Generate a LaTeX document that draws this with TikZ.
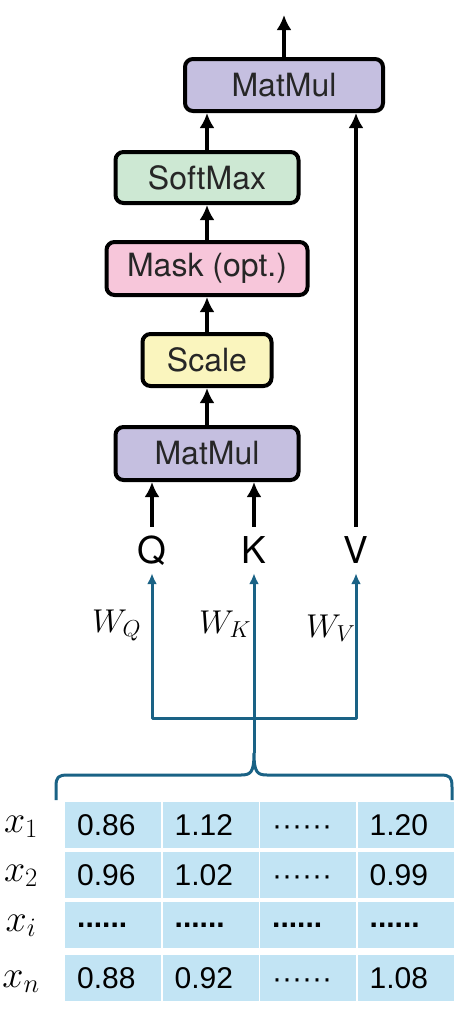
\RequirePackage{fix-cm}
\documentclass[tikz,border=0pt]{standalone}
\usepackage[no-math]{fontspec}
\setmainfont{TeX Gyre Heros}
\newfontfamily\arialf{Liberation Sans}
\usetikzlibrary{arrows.meta}
\definecolor{cpurple}{HTML}{C5BFE0}
\definecolor{cgreen}{HTML}{CDE8D3}
\definecolor{cpink}{HTML}{F7C6DA}
\definecolor{cyellow}{HTML}{FAF5BE}
\definecolor{ccell}{HTML}{C2E4F4}
\definecolor{cblue}{HTML}{1A6285}
\begin{document}
\begin{tikzpicture}[x=1pt,y=1pt,
  box/.style={draw=black, line width=4pt, rounded corners=8pt, inner sep=0pt,
    text=black!85, font=\fontsize{32}{38}\selectfont},
  arr/.style={line width=4pt, -{Latex[length=15pt,width=15pt]}},
  bline/.style={draw=cblue, line width=3pt, line join=round},
  btip/.style={-{Latex[length=11pt,width=10pt]}},
  lbl/.style={inner xsep=0pt, inner ysep=10pt, font=\fontsize{37}{44}\selectfont,
    text height=26pt, text depth=0pt, anchor=base},
  wlbl/.style={inner sep=0pt, anchor=base west, font=\fontsize{33}{40}\selectfont},
  xlbl/.style={inner sep=0pt, anchor=base, font=\fontsize{38}{45}\selectfont},
  cell/.style={fill=ccell, minimum width=96pt, minimum height=46pt, inner ysep=0pt,
    inner xsep=12pt, text width=72pt, align=left, anchor=north west,
    text height=21.5pt, text depth=0pt, font=\arialf\fontsize{30}{36}\selectfont},
]
\useasboundingbox (0,0) rectangle (465,-1017);

% attention boxes
\node[box, fill=cpurple, minimum width=198pt, minimum height=52pt] (mmB) at (284,-85) {MatMul};
\node[box, fill=cgreen, minimum width=183pt, minimum height=51pt] (sm) at (207,-177.5) {SoftMax};
\node[box, fill=cpink, minimum width=201pt, minimum height=53pt] (mask) at (207,-268.5) {Mask (opt.)};
\node[box, fill=cyellow, minimum width=129pt, minimum height=52pt] (scale) at (207,-360) {Scale};
\node[box, fill=cpurple, minimum width=183pt, minimum height=53pt] (mmA) at (207,-453.5) {MatMul};

% Q K V labels
\node[lbl] (Q) at (152,-563) {Q};
\node[lbl] (K) at (254,-563) {K};
\node[lbl] (V) at (356,-563) {V};

\coordinate (out) at (284,-15);

% black arrows
\draw[arr] (mmB.north) -- (out);
\draw[arr] (sm.north) -- (sm.north |- mmB.south);
\draw[arr] (mask.north) -- (sm.south);
\draw[arr] (scale.north) -- (mask.south);
\draw[arr] (mmA.north) -- (scale.south);
\draw[arr] (Q.north) -- (Q.north |- mmA.south);
\draw[arr] (K.north) -- (K.north |- mmA.south);
\draw[arr] (V.north) -- (V.north |- mmB.south);

% W labels
\node[wlbl] (wq) at (92,-632) {$W_Q$};
\node[wlbl] (wk) at (199,-633) {$W_K$};
\node[wlbl] (wv) at (306,-637) {$W_V$};

% blue connectors
\coordinate (tip) at (254,-753);
\draw[bline, {Latex[length=11pt,width=10pt]}-{Latex[length=11pt,width=10pt]}]
  (Q.south) -- (Q.south |- 0,-718) -- (V.south |- 0,-718) -- (V.south);
\draw[bline, btip] (tip) -- (K.south);
\draw[bline] (56,-800) -- (56,-787) .. controls (56,-777) and (58,-775) .. (68,-775)
  -- (241,-775) .. controls (251,-775) and (254,-772) .. (tip)
  .. controls (254,-772) and (257,-775) .. (267,-775)
  -- (440,-775) .. controls (450,-775) and (452,-777) .. (452,-787) -- (452,-800);

% table
\foreach \r/\ty/\a/\b/\c/\d in {
  1/802/0.86/1.12/{······}/1.20,
  2/852/0.96/1.02/{······}/0.99,
  3/902/{\raisebox{8pt}{\bfseries......}}/{\raisebox{8pt}{\bfseries......}}/{\raisebox{8pt}{\bfseries......}}/{\raisebox{8pt}{\bfseries......}},
  4/955/0.88/0.92/{······}/1.08}{
  \node[cell] (c\r1) at (65,-\ty) {\a};
  \node[cell] (c\r2) at (162.5,-\ty) {\b};
  \node[cell] (c\r3) at (260,-\ty) {\c};
  \node[cell] (c\r4) at (357.5,-\ty) {\d};
}

% row labels
\node[xlbl] (x1) at (21,-832) {$x_1$};
\node[xlbl] (x2) at (21,-881) {$x_2$};
\node[xlbl] (xi) at (21,-931) {$x_i$};
\node[xlbl] (xn) at (21,-987) {$x_n$};
\end{tikzpicture}
\end{document}
